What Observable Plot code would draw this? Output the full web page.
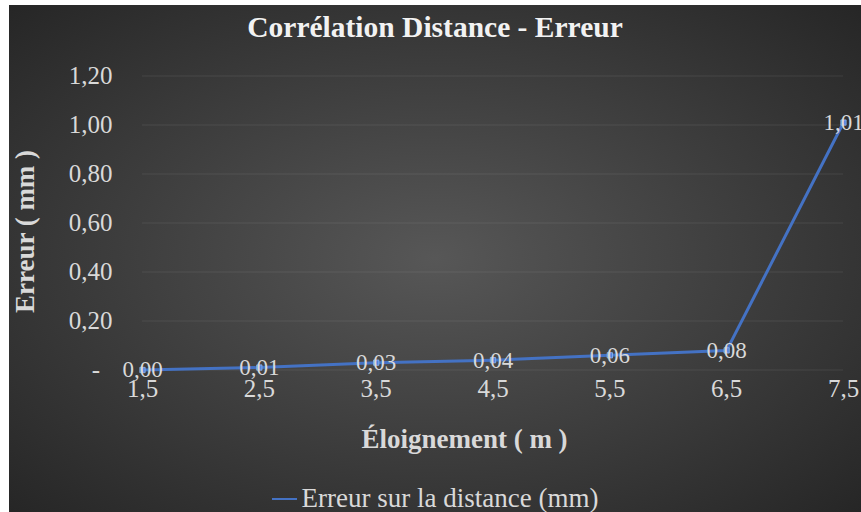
<!DOCTYPE html>
<html>
<head>
<meta charset="utf-8">
<script src="https://cdn.jsdelivr.net/npm/d3@7"></script>
<script src="https://cdn.jsdelivr.net/npm/@observablehq/plot@0.6"></script>
<style>
  html, body { margin: 0; padding: 0; background: #ffffff; }
  body { width: 861px; height: 512px; overflow: hidden; position: relative; }
  #wrap {
    position: absolute; left: 9px; top: 5px; width: 852px; height: 507px;
    background: radial-gradient(ellipse at center, #575757 0%, #262626 100%);
    font-family: "Liberation Serif", "Times New Roman", serif;
    color: #d9d9d9; overflow: hidden;
  }
  #title {
    height: 44px; line-height: 44px; text-align: center;
    font-size: 29.5px; font-weight: bold; color: #f2f2f2;
  }
  #legend {
    height: 53px; box-sizing: border-box; padding-top: 24px;
    display: flex; justify-content: center; align-items: flex-start;
    font-size: 27px; line-height: 30px; color: #d9d9d9;
  }
  #legend .sw { width: 25px; height: 0; border-top: 2.5px solid #4472c4; margin-top: 15px; margin-right: 5px; }
  #chart svg { display: block; }
</style>
</head>
<body>
<div id="wrap">
  <div id="title">Corrélation Distance - Erreur</div>
  <div id="chart"></div>
  <div id="legend"><span class="sw"></span><span>Erreur sur la distance (mm)</span></div>
</div>
<script>
const distances = [1.5, 2.5, 3.5, 4.5, 5.5, 6.5, 7.5];
const erreurs = [0.00, 0.01, 0.03, 0.04, 0.06, 0.08, 1.01];
const yTicks = [0, 0.2, 0.4, 0.6, 0.8, 1.0, 1.2];
const xTicks = [1.5, 2.5, 3.5, 4.5, 5.5, 6.5, 7.5];
const xTitle = "Éloignement ( m )";
const yTitle = "Erreur ( mm )";

const data = distances.map((d, i) => ({x: d, y: erreurs[i]}));
const comma = (v, n) => v.toFixed(n).replace(".", ",");

const chart = Plot.plot({
  width: 852,
  height: 410,
  marginTop: 26.5,
  marginBottom: 89.5,
  marginLeft: 133,
  marginRight: 18,
  style: {background: "transparent", color: "#d9d9d9", fontFamily: "Liberation Serif, Times New Roman, serif", fontSize: "25px"},
  x: {domain: [1.5, 7.5], ticks: xTicks, tickFormat: d => comma(d, 1), tickSize: 0, tickPadding: 9, label: null},
  y: {domain: [0, 1.2], ticks: yTicks, tickFormat: d => d === 0 ? "-\u2007" : comma(d, 2), tickSize: 0, tickPadding: 30, label: null, grid: true},
  marks: [
    Plot.line(data, {x: "x", y: "y", stroke: "#4472c4", strokeWidth: 3}),
    Plot.dot(data, {x: "x", y: "y", symbol: "square", r: 3, fill: "#4f86dc", stroke: "#8fb6f0", strokeWidth: 0.8}),
    Plot.text(data, {x: "x", y: "y", text: d => comma(d.y, 2), fill: "#d9d9d9", fontSize: 23, textAnchor: "middle", lineAnchor: "middle"}),
    Plot.text([xTitle], {text: d => d, frameAnchor: "bottom", dx: -28.5, dy: 69, fontSize: 27, fontWeight: "bold", fill: "#d9d9d9", textAnchor: "middle", lineAnchor: "middle"}),
    Plot.text([yTitle], {text: d => d, frameAnchor: "left", rotate: -90, dx: -117.6, dy: 8.5, fontSize: 27, fontWeight: "bold", fill: "#d9d9d9", textAnchor: "middle", lineAnchor: "middle"})
  ]
});
document.getElementById("chart").appendChild(chart);
</script>
</body>
</html>
